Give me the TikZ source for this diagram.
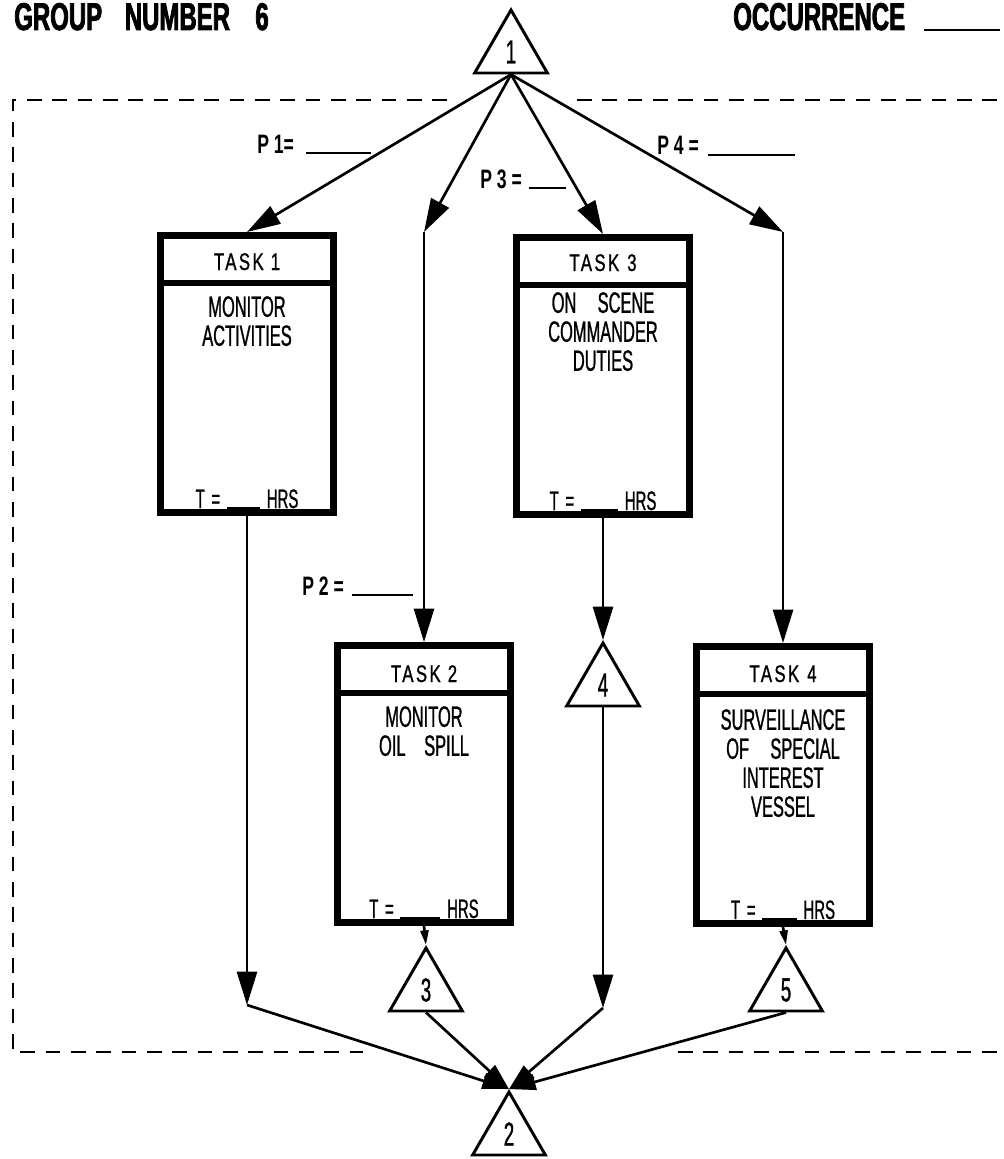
\documentclass[tikz,border=0pt]{standalone}
\usepackage{fontspec}
\setmainfont{Liberation Sans}
\newfontfamily\cnd{Liberation Sans}[FakeStretch=0.56,FakeBold=0.9]
\newfontfamily\tsk{Liberation Sans}[FakeStretch=0.7,LetterSpace=10,FakeBold=0.9]
\newfontfamily\plab{Liberation Sans}[FakeStretch=0.66]
\newfontfamily\ttl{Liberation Sans}[FakeStretch=0.62,BoldFeatures={FakeBold=2}]
\usetikzlibrary{arrows.meta,shapes.geometric,calc}
\newcommand{\blank}[1]{\rule[-0.5pt]{#1}{1.3pt}}
\newcommand{\tsp}{\hspace{5pt}}
\begin{document}
\begin{tikzpicture}[x=0.75pt,y=-0.75pt,
  tri/.style={draw, line width=2.2pt, regular polygon, regular polygon sides=3,
    minimum size=63pt, inner sep=0pt, font=\cnd\fontsize{25}{25}\selectfont},
  taskbox/.style={draw, line width=5.25pt, minimum width=129.75pt,
    minimum height=207.75pt, inner sep=0pt},
  divider/.style={line width=4.5pt},
  hdr/.style={anchor=base, inner sep=0pt, font=\tsk\fontsize{18}{18}\selectfont},
  body/.style={anchor=north, inner sep=0pt, align=center,
    font=\cnd\fontsize{22}{21.75}\selectfont},
  tline/.style={anchor=base, inner sep=0pt, font=\cnd\fontsize{20}{20}\selectfont},
  plabel/.style={anchor=base west, inner sep=0pt, font=\plab\bfseries\fontsize{20}{20}\selectfont},
  conn/.style={line width=2pt},
  bigarrow/.style={-{Triangle[length=25pt,width=15pt]}},
  midarrow/.style={-{Triangle[length=20pt,width=12pt]}},
  smallarrow/.style={-{Triangle[length=11pt,width=6pt]}},
  dashframe/.style={line width=2.2pt, dash pattern=on 11pt off 8pt}
]
\useasboundingbox (0,0) rectangle (1003,1159);

% titles
\node[anchor=base west, inner sep=0pt, font=\ttl\bfseries\fontsize{29}{29}\selectfont] (title) at (14,30)
  {GROUP\hspace{17pt}NUMBER\hspace{19pt}6};
\node[anchor=base west, inner sep=0pt, font=\ttl\bfseries\fontsize{29}{29}\selectfont] (occ) at (733,30)
  {OCCURRENCE\hspace{14pt}\rule[-1pt]{57pt}{1.5pt}};

% dashed frame
\draw[dashframe] (447,100) -- (13,100) -- (13,1052) -- (363,1052);
\draw[dashframe] (577,100) -- (1003,100);
\draw[dashframe] (678,1052) -- (1003,1052);

% triangles
\node[tri] (t1) at (511,52) {1};
\node[tri] (t4) at (603,685) {4};
\node[tri] (t3) at (426,990) {3};
\node[tri] (t5) at (786,990) {5};
\node[tri] (t2) at (509,1134) {2};

% task boxes
\node[taskbox] (k1) at (247,374) {};
\node[taskbox] (k3) at (603,376) {};
\node[taskbox] (k2) at (424,784) {};
\node[taskbox] (k4) at (783,785) {};

\foreach \k in {k1,k2,k3,k4}{
  \draw[divider] ($(\k.north west)+(0,51)$) -- ($(\k.north east)+(0,51)$);
}

\node[hdr] (h1) at ($(k1.north)+(0,38)$) {TASK 1};
\node[hdr] (h2) at ($(k2.north)+(0,40)$) {TASK 2};
\node[hdr] (h3) at ($(k3.north)+(0,37)$) {TASK\hspace{6pt}3};
\node[hdr] (h4) at ($(k4.north)+(0,39)$) {TASK\hspace{6pt}4};

\node[body] (b1) at ($(k1.north)+(0,64)$) {MONITOR\\ACTIVITIES};
\node[body] (b2) at ($(k2.north)+(0,64)$) {MONITOR\\OIL\hspace{14pt}SPILL};
\node[body] (b3) at ($(k3.north)+(0,58)$) {ON\hspace{16pt}SCENE\\COMMANDER\\DUTIES};
\node[body] (b4) at ($(k4.north)+(0,66)$) {SURVEILLANCE\\OF\hspace{16pt}SPECIAL\\INTEREST\\VESSEL};

\node[tline] (tt1) at ($(k1.south)+(0,-8)$) {T\tsp=\tsp\blank{25pt}\tsp HRS};
\node[tline] (tt2) at ($(k2.south)+(0,-8)$) {T\tsp=\tsp\blank{30pt}\tsp HRS};
\node[tline] (tt3) at ($(k3.south)+(0,-8)$) {T\tsp=\tsp\blank{28pt}\tsp HRS};
\node[tline] (tt4) at ($(k4.south)+(0,-8)$) {T\tsp=\tsp\blank{26pt}\tsp HRS};

% probability labels
\node[plabel] (lp1) at (257,153) {P 1=\hspace{9pt}\blank{49pt}};
\node[plabel] (lp2) at (302,595) {P 2 =\hspace{6pt}\blank{46pt}};
\node[plabel] (lp3) at (480,188) {P 3 =\hspace{5pt}\blank{28pt}};
\node[plabel] (lp4) at (657,155) {P 4 =\hspace{7pt}\blank{65pt}};

% bend points
\coordinate (p2a) at (424,232);
\coordinate (p4a) at (783,232);
\coordinate (c1) at (247,1005);
\coordinate (c4) at (603,1008);

% connectors from triangle 1
\draw[conn, bigarrow] (t1.side 2) -- (k1.north);
\draw[conn, bigarrow] (t1.side 2) -- (p2a);
\draw[conn, bigarrow] (p2a) -- (k2.north);
\draw[conn, bigarrow] (t1.side 2) -- (k3.north);
\draw[conn, bigarrow] (t1.side 2) -- (p4a);
\draw[conn, bigarrow] (p4a) -- (k4.north);

% middle connectors
\draw[conn, bigarrow] (k3.south) -- (t4.corner 1);
\draw[conn, bigarrow] (k1.south) -- (c1);
\draw[conn, bigarrow] (t4.side 2) -- (c4);
\draw[conn, smallarrow] (k2.south) -- (t3.corner 1);
\draw[conn, smallarrow] (k4.south) -- (t5.corner 1);

% converging to triangle 2
\draw[conn, midarrow] (c1) -- (t2.corner 1);
\draw[conn, midarrow] (t3.side 2) -- (t2.corner 1);
\draw[conn, midarrow] (c4) -- (t2.corner 1);
\draw[conn, midarrow] (t5.side 2) -- (t2.corner 1);
\end{tikzpicture}
\end{document}
